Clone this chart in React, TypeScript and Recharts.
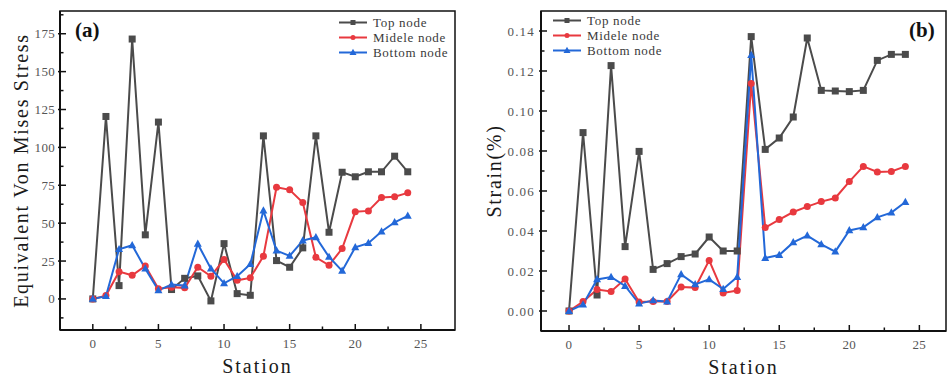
import { LineChart, Line, XAxis, YAxis, ReferenceArea, Legend } from 'recharts';

// Station index along the section
const stations = [0, 1, 2, 3, 4, 5, 6, 7, 8, 9, 10, 11, 12, 13, 14, 15, 16, 17, 18, 19, 20, 21, 22, 23, 24];

// (a) equivalent von Mises stress
const stressTop = [0, 120.4, 8.8, 171.5, 42.3, 116.7, 6.2, 13.6, 15.2, -1.3, 36.5, 3.5, 2.4, 107.6, 25.3, 20.9, 33.7, 107.6, 44.0, 83.6, 80.6, 83.9, 83.9, 94.2, 83.9];
const stressMid = [0, 2.2, 18.0, 15.6, 21.8, 6.8, 7.7, 7.3, 20.9, 15.0, 26.0, 12.3, 13.9, 28.2, 73.7, 72.0, 63.6, 27.5, 22.2, 33.2, 57.5, 58.1, 66.9, 67.4, 70.0];
const stressBottom = [0, 1.8, 32.8, 35.4, 20.0, 5.7, 9.5, 8.8, 36.3, 20.0, 10.3, 15.0, 22.9, 58.3, 31.9, 28.4, 38.5, 40.7, 27.7, 18.5, 34.1, 36.8, 44.5, 50.6, 54.8];

// (b) strain in %
const strainTop = [0, 0.0892, 0.008, 0.1227, 0.0322, 0.0798, 0.0208, 0.0237, 0.0272, 0.0285, 0.037, 0.030, 0.030, 0.1372, 0.0808, 0.0865, 0.097, 0.1365, 0.1103, 0.110, 0.1097, 0.1103, 0.1253, 0.1283, 0.1283];
const strainMid = [0, 0.0047, 0.0107, 0.0098, 0.016, 0.0045, 0.0048, 0.0048, 0.012, 0.0117, 0.0253, 0.009, 0.0102, 0.1138, 0.0417, 0.0457, 0.0495, 0.0522, 0.0547, 0.0565, 0.0647, 0.0723, 0.0695, 0.0698, 0.0723];
const strainBottom = [0, 0.0032, 0.0158, 0.017, 0.0125, 0.0037, 0.0053, 0.0047, 0.0183, 0.0133, 0.0158, 0.011, 0.017, 0.128, 0.0265, 0.028, 0.0343, 0.0377, 0.0333, 0.0297, 0.0403, 0.0418, 0.0468, 0.0492, 0.0545];

// axis ticks (major ones get labels, minor ones only a short mark)
const xMajor = [0, 5, 10, 15, 20, 25];
const xMinor = [2.5, 7.5, 12.5, 17.5, 22.5];
const stressMajor = [0, 25, 50, 75, 100, 125, 150, 175];
const stressMinor = [-12.5, 12.5, 37.5, 62.5, 87.5, 112.5, 137.5, 162.5, 187.5];
const strainMajor = [0, 0.02, 0.04, 0.06, 0.08, 0.1, 0.12, 0.14];
const strainMinor = [0.01, 0.03, 0.05, 0.07, 0.09, 0.11, 0.13];

const SERIF = '"Liberation Serif", "DejaVu Serif", serif';

type Shape = 'square' | 'circle' | 'triangle';
const series: { key: string; name: string; color: string; shape: Shape }[] = [
  { key: 'top', name: 'Top node', color: '#4b4b4b', shape: 'square' },
  { key: 'mid', name: 'Midele node', color: '#e8393f', shape: 'circle' },
  { key: 'bottom', name: 'Bottom node', color: '#2368d8', shape: 'triangle' },
];

const buildRows = (top: number[], mid: number[], bottom: number[]) =>
  stations.map((s, i) => ({ station: s, top: top[i], mid: mid[i], bottom: bottom[i] }));

const stressRows = buildRows(stressTop, stressMid, stressBottom);
const strainRows = buildRows(strainTop, strainMid, strainBottom);

function Marker({ shape, cx, cy, color, size }: { shape: Shape; cx: number; cy: number; color: string; size: number }) {
  if (shape === 'square') {
    return <rect x={cx - size / 2} y={cy - size / 2} width={size} height={size} fill={color} />;
  }
  if (shape === 'circle') {
    return <circle cx={cx} cy={cy} r={size / 2} fill={color} />;
  }
  const h = size * 0.9;
  return (
    <polygon
      points={`${cx},${cy - h * 0.6} ${cx - size / 2},${cy + h * 0.4} ${cx + size / 2},${cy + h * 0.4}`}
      fill={color}
    />
  );
}

function LegendBox() {
  return (
    <div style={{ fontFamily: SERIF, fontSize: 13, letterSpacing: 0.7, color: '#3a3a3a' }}>
      {series.map((s) => (
        <div key={s.key} style={{ display: 'flex', alignItems: 'center', height: 15 }}>
          <svg width={28} height={15} style={{ display: 'block' }}>
            <line x1={0} y1={7.5} x2={28} y2={7.5} stroke={s.color} strokeWidth={2} />
            <Marker shape={s.shape} cx={14} cy={7.5} color={s.color} size={s.shape === 'triangle' ? 7 : 5} />
          </svg>
          <span style={{ marginLeft: 6, lineHeight: '15px', whiteSpace: 'nowrap' }}>{s.name}</span>
        </div>
      ))}
    </div>
  );
}

const makeXTick = (labelDy: number) => (props: any) => {
  const { x, y, payload } = props;
  const major = xMajor.includes(payload.value);
  return (
    <g>
      <line x1={x} y1={y} x2={x} y2={y - (major ? 6 : 3.5)} stroke="#111" strokeWidth={1.5} />
      {major && (
        <text x={x} y={y + labelDy} textAnchor="middle" fontFamily={SERIF} fontSize={13} letterSpacing={0.3} fill="#555">
          {payload.value}
        </text>
      )}
    </g>
  );
};

const makeYTick = (majors: number[], fmt: (v: number) => string, gap: number, spacing: number) => (props: any) => {
  const { x, y, payload } = props;
  const major = majors.includes(payload.value);
  return (
    <g>
      <line x1={x - (major ? 2 : 0)} y1={y} x2={x + (major ? 6 : 3.5)} y2={y} stroke="#111" strokeWidth={1.5} />
      {major && (
        <text x={x - gap} y={y + 4.5} textAnchor="end" fontFamily={SERIF} fontSize={13} letterSpacing={spacing} fill="#555">
          {fmt(payload.value)}
        </text>
      )}
    </g>
  );
};

interface PanelProps {
  left: number;
  width: number;
  yAxisWidth: number;
  rightMargin: number;
  xAxisHeight: number;
  rows: any[];
  xDomain: [number, number];
  yDomain: [number, number];
  yMajor: number[];
  yMinor: number[];
  fmtY: (v: number) => string;
  yGap: number;
  ySpacing: number;
  yTitle: string;
  yTitleX: number;
  legendLeft: number;
  legendTop: number;
}

function Panel(p: PanelProps) {
  const height = 379;
  const xTicks = [...xMajor, ...xMinor].sort((a, b) => a - b);
  const yTicks = [...p.yMajor, ...p.yMinor].sort((a, b) => a - b);

  return (
    <div style={{ position: 'absolute', left: p.left, top: 0 }}>
      <LineChart width={p.width} height={height} data={p.rows} margin={{ top: 11, right: p.rightMargin, bottom: 0, left: 0 }}>
        <XAxis
          dataKey="station"
          type="number"
          domain={p.xDomain}
          ticks={xTicks}
          interval={0}
          height={p.xAxisHeight}
          tickSize={0}
          tickMargin={0}
          tickLine={false}
          axisLine={{ stroke: '#111', strokeWidth: 2 }}
          tick={makeXTick(18)}
          allowDataOverflow
          label={{
            value: 'Station',
            content: ({ viewBox }: any) => (
              <text
                x={viewBox.x + viewBox.width / 2}
                y={viewBox.y + 43}
                textAnchor="middle"
                fontFamily={SERIF}
                fontSize={20}
                letterSpacing={2}
                fill="#1a1a1a"
              >
                Station
              </text>
            ),
          }}
        />
        <YAxis
          type="number"
          domain={p.yDomain}
          ticks={yTicks}
          interval={0}
          width={p.yAxisWidth}
          tickSize={0}
          tickMargin={0}
          tickLine={false}
          axisLine={{ stroke: '#111', strokeWidth: 2 }}
          tick={makeYTick(p.yMajor, p.fmtY, p.yGap, p.ySpacing)}
          allowDataOverflow
          label={{
            value: p.yTitle,
            content: ({ viewBox }: any) => {
              const cx = viewBox.x + p.yTitleX;
              const cy = viewBox.y + viewBox.height / 2;
              return (
                <text
                  x={cx}
                  y={cy}
                  transform={`rotate(-90 ${cx} ${cy})`}
                  textAnchor="middle"
                  fontFamily={SERIF}
                  fontSize={20}
                  letterSpacing={1.7}
                  fill="#1a1a1a"
                >
                  {p.yTitle}
                </text>
              );
            },
          }}
        />
        <ReferenceArea
          x1={p.xDomain[0]}
          x2={p.xDomain[1]}
          y1={p.yDomain[0]}
          y2={p.yDomain[1]}
          fill="none"
          stroke="#111"
          strokeWidth={1.5}
          ifOverflow="visible"
        />
        <Legend
          layout="vertical"
          align="center"
          verticalAlign="middle"
          wrapperStyle={{ left: p.legendLeft, top: p.legendTop, width: 'auto' }}
          content={() => <LegendBox />}
        />
        {series.map((s) => (
          <Line
            key={s.key}
            dataKey={s.key}
            name={s.name}
            type="linear"
            stroke={s.color}
            strokeWidth={2}
            isAnimationActive={false}
            dot={(d: any) => (
              <Marker
                key={`${s.key}-${d.index}`}
                shape={s.shape}
                cx={d.cx}
                cy={d.cy}
                color={s.color}
                size={s.shape === 'triangle' ? 8 : 7}
              />
            )}
            activeDot={false}
          />
        ))}
      </LineChart>
    </div>
  );
}

export default function App() {
  return (
    <div style={{ position: 'absolute', left: 0, top: 0, width: 947, height: 379, background: '#fff', overflow: 'hidden' }}>
      <Panel
        left={0}
        width={470}
        yAxisWidth={60}
        rightMargin={15}
        xAxisHeight={49}
        rows={stressRows}
        xDomain={[-2.5, 27.6]}
        yDomain={[-20.5, 190]}
        yMajor={stressMajor}
        yMinor={stressMinor}
        fmtY={(v) => String(v)}
        yGap={5}
        ySpacing={0.3}
        yTitle="Equivalent Von Mises Stress"
        yTitleX={28}
        legendLeft={339}
        legendTop={15}
      />
      <Panel
        left={470}
        width={477}
        yAxisWidth={71}
        rightMargin={1}
        xAxisHeight={48}
        rows={strainRows}
        xDomain={[-2, 26.9]}
        yDomain={[-0.01, 0.15]}
        yMajor={strainMajor}
        yMinor={strainMinor}
        fmtY={(v) => v.toFixed(2)}
        yGap={6}
        ySpacing={1.2}
        yTitle="Strain(%)"
        yTitleX={31}
        legendLeft={83}
        legendTop={13}
      />
      <svg width={947} height={379} style={{ position: 'absolute', left: 0, top: 0, pointerEvents: 'none' }}>
        <text x={75} y={37} fontFamily={SERIF} fontWeight="bold" fontSize={21} fill="#111">
          (a)
        </text>
        <text x={909} y={37} fontFamily={SERIF} fontWeight="bold" fontSize={21} fill="#111">
          (b)
        </text>
      </svg>
    </div>
  );
}
